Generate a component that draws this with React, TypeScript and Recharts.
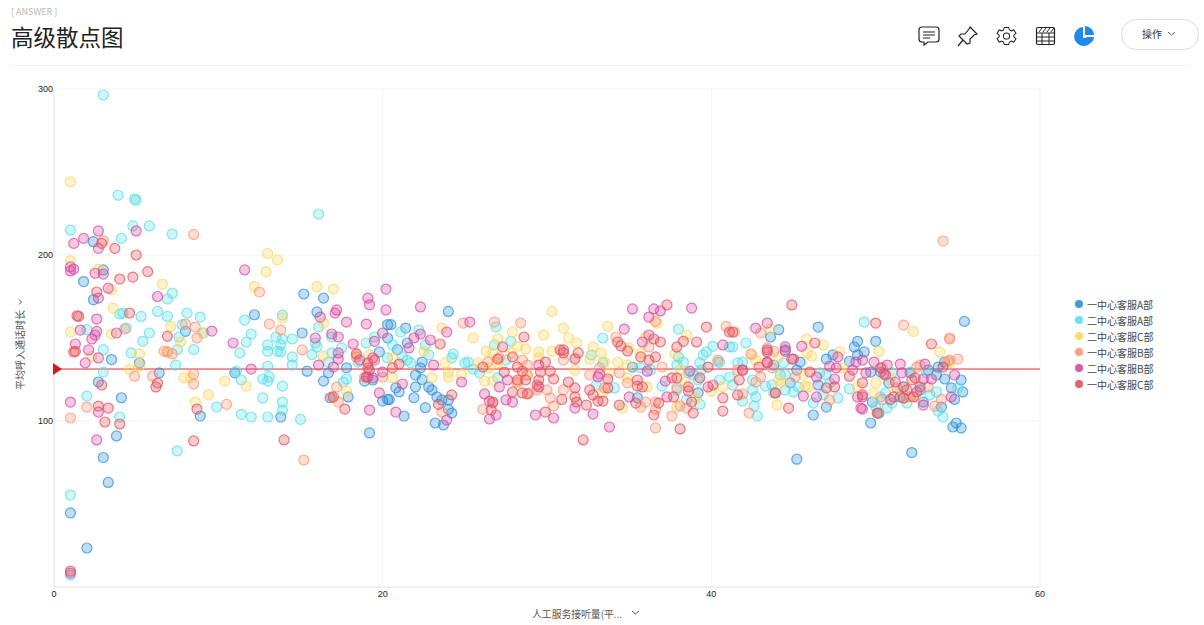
import React from "react";
import { ScatterChart, Scatter, XAxis, YAxis, CartesianGrid, ReferenceLine, ReferenceDot, Legend } from "recharts";

type P = [number, number];

const xTicks = [0, 20, 40, 60];
const yTicks = [100, 200, 300];
const referenceValue = 131.3;
const xTitle = "人工服务接听量(平...";
const yTitle = "平均呼入通话时长";

const blueA: P[] = [[2.4,208],[3,191],[1.8,184],[2.4,173],[8,154],[5.2,135],[3.5,137],[2.7,123.5],[6.4,129],[4.1,114],[8.9,103],[3.8,91],[3,78],[1,44.6],[2,23.5],[3.3,63],[15.2,176.5],[16.4,174],[12.2,164],[16,165.7],[15.1,153],[15.4,130],[17.8,132],[16.7,129],[16.4,124],[11,129],[16.8,114],[17.9,114.5],[13.8,102.4],[19.2,92.8],[19.8,141.6],[20,112],[20.3,113],[20.3,158],[18.9,124],[19.4,124.7],[20.3,150],[24,166],[20.5,158],[21.4,156],[21.5,147],[20.9,143],[22.4,135.5],[22.3,132],[22,127.7],[22.4,125],[22,120.5],[20.8,120],[21,117.5],[21.9,114],[22.8,120.5],[23,118.7],[23.3,114.5],[23.6,112.7],[24,112.7],[22.6,108],[24,107],[24.2,104.8],[21.3,103],[23.2,98.8],[23.7,97.6],[20.4,113],[35.2,132.5],[39.2,117],[35.5,114],[44.1,155],[43.6,150.6],[46.5,156.6],[46.2,103.6],[47,108.4],[45.4,135.5],[45.2,130.7],[44.5,142.8],[47,137.3],[47.4,139.8],[48.9,148],[48.7,144.6],[48.9,139.8],[48.4,136],[46.5,121.7],[43.8,133.7],[44.8,123],[45.2,77],[55.4,160],[50,148],[49.3,141.6],[49.7,98.8],[54.9,98.8],[54.7,96.4],[55.2,95.8],[52.2,81],[55.2,124.7],[55.3,117.5],[54.8,113],[54.2,125.3],[54.6,120],[54,108.4],[53.7,127.7],[54.2,135.5],[53.8,132.5],[52.9,111.4],[53.2,130.7],[49.8,111.4],[49.7,129.5],[50.3,129.5],[50.8,123],[52.1,129],[51.5,114.5],[52.7,118.7],[50.2,104.8]];

const cyanA: P[] = [[3,296.4],[1,215],[3.9,236],[4.9,233.7],[5,233],[4.8,217.5],[5.8,217.5],[7.2,212.6],[4.1,210],[16.1,224.7],[1,55.4],[1,7.2],[7.5,82],[7.2,177],[6.9,173.5],[4,164.5],[4.2,165],[5.3,163],[6.3,166],[6.9,163],[8.1,165],[8.9,162.6],[7.8,158],[2,155],[4.4,156],[5.8,153],[5.4,148],[3,143],[4.7,141],[7.6,150.6],[7.5,143],[8.5,143],[9.1,153],[7.4,133.7],[3,129.5],[2,115],[4,102.4],[9.9,108.4],[11.6,160.8],[12,152.4],[11.7,147.6],[11.3,141],[13.9,163.8],[13.5,150.6],[13.9,149.4],[14.5,149.4],[13,145.8],[13,142],[13.6,142],[13.8,145.8],[13.8,141.6],[14.5,138.6],[14.5,133.7],[13,133],[11.1,130],[11.4,124.7],[12.7,125.3],[13,124],[13.1,126.5],[13.9,121],[12.7,113.9],[13.9,111.4],[13.9,106.6],[11.4,104],[12,102.4],[13,102.4],[15,101],[16.1,156.6],[15.9,147],[16,144.6],[15.7,140],[16.9,150.6],[17.5,144],[16.9,141],[16.7,135.5],[17.8,125.3],[17.6,123.5],[19,147],[19.5,150.6],[20.3,138],[18.5,135.5],[22.2,154.8],[21.1,153.6],[20.6,145.8],[22.6,145.8],[22.8,139.8],[21.5,136.7],[21.2,138.6],[24.2,138],[24.3,140.4],[25,135],[25.2,135.5],[25.5,131.3],[25.9,129],[26.9,156.6],[26.8,145.8],[27.8,148],[27.5,136.7],[27,126],[21.7,135],[38,155.4],[33.4,150],[40.1,145],[39.5,139.8],[39.7,141.6],[38,138.6],[38.3,135.5],[37.9,133.7],[40.4,135.5],[40.5,135.5],[39.3,135],[32.7,139.8],[39.4,130.7],[38.9,127.7],[38.6,129],[37,121],[37.9,118.7],[39.2,124.7],[38.5,113],[39.3,110],[33,121.7],[34.1,119.9],[35.7,132],[36.3,130.7],[33.4,135],[40.5,124.7],[41.1,144.6],[42.1,147],[41.3,144.6],[41.6,135],[41.9,135.5],[41.1,126.5],[41.3,121.7],[42.5,124.7],[42.5,118.7],[42.7,114.5],[41.9,112],[42.6,109],[42.8,103],[43.3,121],[43.7,121.7],[44.2,127.7],[44.5,128],[44.4,135],[43.8,116.9],[44.5,118.7],[45,117.5],[45.3,120.5],[46.2,110.8],[46.6,129],[47,127.7],[47.2,123],[47.7,113.9],[46.8,115.7],[48.4,119.3],[49.3,159.6],[50,108.4],[50.7,107.8],[51,110.8],[51.9,110.8],[53.8,106],[54.1,102.4],[53.3,115.7],[51,129],[52.1,129.5],[50.6,116.9],[53.7,117.5],[55,119.9],[53.1,129],[51.7,120.5],[50.3,114.5]];

const yellowC: P[] = [[1,244],[1,196.5],[13,201],[13.6,197],[12.9,190],[2.7,191.5],[3.5,179],[6.6,182.5],[3.6,168],[1,153.6],[3.5,152.4],[7.1,157],[7.7,147.6],[5.2,140.4],[4.6,131],[5.2,133],[2.3,139],[7.9,126],[8.3,126],[9.4,115.7],[8.6,111.4],[9,153],[6.9,141.6],[12.2,181],[16,181],[17,179.5],[13.9,162],[16.4,159],[10.4,124],[11.7,121],[16.4,139],[17.8,118],[19.2,139.8],[18.4,139.8],[30.3,166],[23.6,156],[25.5,150],[27.9,153.6],[29.8,151.8],[27,149.4],[26.3,142],[28.2,145],[28.7,143.4],[29.5,141.6],[30.3,142],[22.5,142],[20.6,138],[23.8,135],[25.8,135],[26.7,141],[27.8,141],[27,135],[26.5,132],[24,129.5],[24,126.5],[24.8,128],[23,126],[26.2,124],[20.6,126],[26.7,124],[28.2,123],[28.8,127.7],[29.5,138],[31,156],[33.7,157],[36.7,159],[38.5,151.8],[31.3,150],[31.8,147],[32.8,144.6],[33.3,141],[36,150.6],[35,144],[37.8,140.4],[35.7,141],[34.3,135.5],[33.5,135.5],[32.6,137.3],[31.7,138],[31.7,130.7],[34.9,133.7],[34.9,126],[33.8,129],[36.1,120.5],[34.6,107.8],[37.9,108.4],[40,118],[40.7,120.5],[39.1,113.9],[38.1,130.7],[38.4,123.5],[33.4,116.9],[43.6,155.4],[45.8,149.4],[46.8,145.8],[45.8,141],[46.1,139],[42.5,139.8],[42.7,136.7],[44.1,138.6],[44.1,124.7],[44.3,123.5],[45.7,121],[45.9,120.5],[45.6,127.7],[44,109.6],[47.8,141.6],[48,132],[48.9,120.5],[52.3,154],[50.2,142],[53.9,141.6],[50,123],[49.9,116.9],[50.9,126],[51.1,119.9],[52.5,114.5],[54.5,135]];

const salmonB: P[] = [[8.5,212.4],[54.1,208.4],[54.5,149.4],[15.2,76.5],[3,208.7],[4.3,155.4],[8,158.4],[8.6,156.6],[8.7,150],[6.7,142],[6.9,141.6],[7.2,140.4],[4.9,127],[6,127],[8.5,128.3],[8.5,122.3],[2,108.4],[1,101.8],[12.5,177.7],[13.1,158.4],[13.8,154.8],[15.1,142.8],[10.5,110],[17.2,120.5],[17.3,111.4],[16.9,114.5],[18.4,138.6],[18.9,126.5],[20,126.5],[24.9,159],[26.8,159.6],[28.4,159],[23.6,105.4],[26.1,107],[26.7,110.8],[26.4,135.5],[28.5,136.7],[28.8,133.7],[30,118.7],[30.2,113.9],[30.4,109],[29.4,118.7],[28.8,127.7],[28.2,123.5],[27.1,138],[28.9,116.9],[40.9,157],[34.2,150.6],[36.6,160],[36.2,144.6],[36.6,95.8],[37.6,103],[35.7,108.4],[36,111.4],[36.6,111.4],[36.6,107],[32.6,127.7],[31,118.7],[34.4,129],[34.9,123],[37,132.5],[37.9,119.9],[38.1,109],[38.5,107.8],[33.5,119.9],[31,136.7],[33.2,132],[40.4,136.7],[41.4,153.6],[43,153],[43.4,144],[43.8,142],[42.4,140.4],[41.6,130.7],[43.7,132],[43,126.5],[42.7,123.5],[42.3,104.8],[41.9,116.3],[45.1,126.5],[47.2,112.7],[43.9,116.9],[51.7,157.8],[54.5,150],[55,137.3],[54.5,136.7],[54.4,136],[52.7,133.7],[52.5,132.5],[50.4,132],[54,113],[53.6,109],[50.1,104.8],[50.4,113],[52.1,114.5],[51.7,113.9],[53.2,120.5],[51.3,119.9]];

const magentaB: P[] = [[1,8.4],[2.7,214.5],[1.8,210],[1.2,207],[5,214.5],[2.7,204],[11.6,191],[1,192.8],[1.2,191.5],[1,190.4],[2.5,189],[3,188.5],[3.3,180],[2.7,174],[6.3,175],[2.6,161.4],[1.6,154.8],[2.6,154],[2.5,151.8],[2.3,149.4],[1.3,146.4],[2.1,142.8],[3.8,153],[2.7,138],[1.9,135],[1,111.4],[2.7,105.4],[2.6,88.6],[9.6,154.2],[10.9,147],[12,131.3],[16.2,162.6],[17.1,165],[17.2,166.9],[17.8,159.6],[15.9,150],[16.9,152.4],[17.3,150.6],[18.2,146.4],[19.1,174],[19.2,170],[19,158.4],[20.2,179.5],[20.2,166.9],[17.3,141],[17.3,137.3],[16.1,133.7],[17,132.5],[18.6,136.7],[19.4,138],[19.2,130.7],[19.1,126.5],[19.4,126],[20,129.5],[19.8,116.9],[19.2,106.6],[19.5,148],[20,153],[22.3,168.7],[23.9,153.6],[22.3,152.4],[21.9,150],[22.9,148.8],[21.6,144],[23.1,133.7],[21.2,122.3],[20.8,105.4],[23.9,100.6],[24.8,123.5],[25.3,159.6],[26.2,116.3],[26.5,112],[26.5,101.2],[26.9,103.6],[27.1,120.5],[27.5,112.7],[27.9,111.4],[27.6,124.7],[29.3,103.6],[30.4,101.8],[29.5,120.5],[29.5,133.7],[35.2,167.5],[38.8,168],[36.5,167.5],[36.2,162.6],[36.9,166.3],[34.7,155.4],[36.2,151.8],[35.8,147.6],[31.7,137.3],[36.1,130],[33.1,126.5],[37.2,124],[37.3,114.5],[35,114.5],[32.8,104.2],[31.7,107.8],[33.8,96.4],[40.7,145.8],[38.7,130],[33.2,128.3],[39.8,120.5],[42.7,156],[43.4,159],[44.5,144.6],[44.5,142],[43.4,142.8],[43.4,135.5],[45.5,145],[45,137.3],[47.7,138.6],[47.2,133],[47.6,132],[46.4,126.5],[47.5,125.3],[45.6,115],[46.4,114.5],[48.8,135.5],[48.6,130.7],[48.9,114.5],[49.1,107.8],[41.9,130.7],[49.9,135.5],[50.7,133.7],[51.5,134.3],[53,134.3],[49.4,129],[50.5,128.3],[51.6,129],[49.2,136.7],[53.4,125.3],[52.9,125.3],[54.8,127.7],[54.6,114.5],[51.2,123.5],[52.5,117.5],[52.9,109.6],[50.9,113],[49.2,107.2],[49.2,114.5]];

const redC: P[] = [[1,9.6],[2.9,207],[3.7,204],[5,200],[5.7,190],[4,185.5],[4.8,186.7],[2.6,177.7],[1.5,163],[1.4,163.4],[4.6,165],[6.9,151],[1.2,141.6],[1.3,142],[2.9,121.7],[6.3,122.9],[6.2,120.5],[2.7,109],[3.3,107.8],[3.1,99.4],[4,98.2],[8.5,88],[8.7,107.2],[14,88.6],[17.7,107.2],[17,114.5],[18.4,140.4],[19,126.5],[19.1,135],[19.5,136.7],[19.1,132],[23.5,146.4],[24.2,115.7],[23.4,110],[21,134.3],[20.6,132],[26.1,132.5],[27,137.3],[27.3,144.6],[28.6,150.6],[27.9,138.6],[28.2,132.5],[28.5,130],[27.4,129.5],[28.2,124.7],[28.7,124.7],[27.9,117.5],[28.5,116.9],[28.8,116.3],[26.7,111.4],[26.6,106.6],[29.4,121.7],[29.5,124.7],[29.9,135.5],[29.6,129.5],[30.2,130],[30.4,125.3],[30.8,142.8],[29.9,105.4],[37.3,169.9],[39.7,156.6],[32.2,88.6],[38.1,95.2],[41.1,153.6],[39.1,147.6],[38.3,148],[37.9,144.6],[36.9,147.6],[36.5,149.4],[34.3,147.6],[34.5,145.2],[34.9,142.2],[31.9,141],[31,142.8],[31,141],[36.6,138.6],[36.2,136.7],[35.7,138.6],[39.8,132.5],[37.9,126],[37.6,126],[35.5,124.7],[35.5,121],[35.8,120.5],[33.7,125.3],[33.7,119.9],[31.7,119.9],[31.7,114.5],[31.8,111.4],[31.3,123.5],[32.6,118.7],[32.8,115.7],[33.4,112],[33.1,112],[32.4,109.6],[34.4,109.6],[35.4,110.8],[36.8,110.8],[36.5,103.6],[37.7,114.5],[38.6,120.5],[38.6,118],[38.9,104.8],[38.8,111.4],[39.3,126],[40.1,121.7],[40.7,113.9],[40.7,106],[30.9,113],[44.9,169.9],[46.3,147],[41.3,153.6],[43.4,135],[43.4,141.6],[42.9,132.5],[41.9,130.7],[41.7,124.7],[41.6,115.7],[43.9,116.9],[44.7,107.8],[44.9,137.3],[46,129.5],[47,119.9],[47.5,120.5],[48.4,127],[50,159],[53.4,146.4],[54.1,132.5],[50.1,104.8],[51.7,120.5],[52.4,126],[52.7,120.5],[51.1,114.5],[50.3,132],[52.2,124.7],[51.9,118.7],[51.7,113.9],[49.2,123],[49.2,115.7],[52.3,114.5],[50.6,127.7]];

const seriesNames = ["一中心客服A部", "二中心客服A部", "二中心客服C部", "一中心客服B部", "二中心客服B部", "一中心客服C部"];
const seriesColors = ["#2b90d9", "#5cdfe6", "#ffd55c", "#ff9473", "#d9489f", "#e3505a"];
const seriesPoints = [blueA, cyanA, yellowC, salmonB, magentaB, redC];

const FONT = '"Noto Sans CJK SC", "Noto Sans", sans-serif';

const dot = (color: string) => (props: any) => (
  <circle cx={props.cx} cy={props.cy} r={5} fill={color} fillOpacity={0.3} stroke={color} strokeOpacity={0.72} strokeWidth={1.2} />
);

const triangle = (props: any) => (
  <path d={`M${props.cx - 1} ${props.cy - 6} L${props.cx + 8} ${props.cy} L${props.cx - 1} ${props.cy + 6} Z`} fill="#d7191c" />
);

const legendContent = (props: any) => (
  <div style={{ fontFamily: FONT, fontSize: 10, color: "#444" }}>
    {(props.payload || []).map((e: any) => (
      <div key={e.value} style={{ display: "flex", alignItems: "center", height: 16 }}>
        <span style={{ width: 8, height: 8, borderRadius: 4, background: e.color, opacity: 0.9, marginRight: 4 }} />
        <span>{e.value}</span>
      </div>
    ))}
  </div>
);

function Header() {
  const s = { fill: "none", stroke: "#222", strokeWidth: 1.2 };
  return (
    <>
      <div style={{ position: "absolute", left: 11, top: 6, fontFamily: FONT, fontSize: 9, lineHeight: "12px", color: "#bbb" }}>[ ANSWER ]</div>
      <div style={{ position: "absolute", left: 11, top: 20, fontFamily: FONT, fontSize: 22.500, lineHeight: "32px", color: "#222" }}>高级散点图</div>
      <div style={{ position: "absolute", left: 11, top: 65, width: 1179, height: 1, background: "#f2f2f2" }} />
      <svg style={{ position: "absolute", left: 0, top: 0 }} width={1204} height={70}>
        <path d="M922 27h14a3 3 0 0 1 3 3v9a3 3 0 0 1-3 3h-8l-4 3v-3h-2a3 3 0 0 1-3-3v-9a3 3 0 0 1 3-3z" {...s} />
        <path d="M923 32h12M923 35h12M923 38h7" {...s} />
        <path d="M970 27l7 7-3 1-4 4 0 4-3 1-8-8 2-2 4 0 4-5z" {...s} />
        <path d="M963 40l-5 6" {...s} />
        <g transform="translate(1006.500 36) scale(0.86) translate(-1006.500 -36)">
          <path d="M1004 26h5l1 3 2 1 3-1 2.500 4-2.500 2v2l2.500 2-2.500 4-3-1-2 1-1 3h-5l-1-3-2-1-3 1-2.500-4 2.500-2v-2l-2.500-2 2.500-4 3 1 2-1z" {...s} />
          <circle cx={1006.5} cy={36} r={3.6} {...s} />
        </g>
        <rect x={1036.5} y={27.5} width={18} height={17} rx={1.5} {...s} />
        <path d="M1037 33h18M1037 37h18M1037 41h18M1042 33v11M1049 33v11M1039 32l3-4M1043 32l3-4M1047 32l3-4M1051 32l3-4" {...s} strokeWidth={1} />
        <path d="M1083 27a9.5 9.5 0 1 0 10 11h-10z" fill="#1f87f0" />
        <path d="M1085 26a9 9 0 0 1 9 9h-9z" fill="#1f87f0" />
        <path d="M1086 37h8a9 9 0 0 1-2.500 5.500z" fill="#1f87f0" />
        <path d="M1168 32l3.500 3 3.500-3" fill="none" stroke="#555" strokeWidth={1} />
      </svg>
      <div style={{ position: "absolute", left: 1121, top: 19, width: 78, height: 31, boxSizing: "border-box", border: "1px solid #ddd", borderRadius: 16 }} />
      <div style={{ position: "absolute", left: 1142, top: 26, fontFamily: FONT, fontSize: 10, lineHeight: "16px", color: "#333" }}>操作</div>
      <svg style={{ position: "absolute", left: 0, top: 280 }} width={30} height={40}>
        <path d="M18 20.500l2.500 2.500 2.500-2.500" transform="rotate(-90 20.500 22)" fill="none" stroke="#555" strokeWidth={1} />
      </svg>
      <svg style={{ position: "absolute", left: 625, top: 606 }} width={20} height={16}>
        <path d="M7 5l3.500 3 3.500-3" fill="none" stroke="#555" strokeWidth={1} />
      </svg>
    </>
  );
}

export default function App() {
  return (
    <div style={{ position: "absolute", left: 0, top: 0, width: 1204, height: 625, background: "#fff", overflow: "hidden" }}>
      <Header />
      <div style={{ position: "absolute", left: 0, top: 0 }}>
        <ScatterChart width={1204} height={625} margin={{ top: 89, right: 164, bottom: 0, left: 0 }} style={{ fontFamily: FONT }}>
          <CartesianGrid stroke="#f5f5f5" strokeWidth={1} horizontalValues={[100, 200, 300]} verticalValues={[20, 40, 60]} />
          <XAxis
            type="number"
            dataKey="x"
            domain={[0, 60]}
            ticks={xTicks}
            height={38}
            tickLine={false}
            tickSize={0}
            tickMargin={4}
            axisLine={{ stroke: "#f0f0f0", strokeWidth: 2 }}
            tick={{ fontSize: 9, fill: "#222", fontFamily: "Liberation Sans" }}
            label={{ value: xTitle, position: "insideBottom", offset: 7, dx: 30, style: { fontSize: 9.8, fill: "#555", fontFamily: FONT } }}
          />
          <YAxis
            type="number"
            dataKey="y"
            domain={[0, 300]}
            ticks={yTicks}
            width={54}
            tickLine={false}
            tickSize={0}
            tickMargin={1}
            axisLine={{ stroke: "#f0f0f0", strokeWidth: 2 }}
            tick={{ fontSize: 9, fill: "#222", fontFamily: "Liberation Sans" }}
            label={{ value: yTitle, angle: -90, position: "insideLeft", offset: 20, dy: 12, style: { fontSize: 10, fill: "#555", fontFamily: FONT, textAnchor: "middle" } }}
          />
          {seriesNames.map((name, i) => (
            <Scatter
              key={name}
              name={name}
              data={seriesPoints[i].map(([x, y]) => ({ x, y }))}
              fill={seriesColors[i]}
              shape={dot(seriesColors[i])}
              isAnimationActive={false}
            />
          ))}
          <ReferenceLine y={referenceValue} stroke="#e0262b" strokeWidth={1} />
          <ReferenceDot x={0} y={referenceValue} shape={triangle} />
          <Legend layout="vertical" align="center" verticalAlign="middle" itemSorter={null} content={legendContent} wrapperStyle={{ left: 1075, top: 296, width: 110, height: 96 }} />
        </ScatterChart>
      </div>
    </div>
  );
}
